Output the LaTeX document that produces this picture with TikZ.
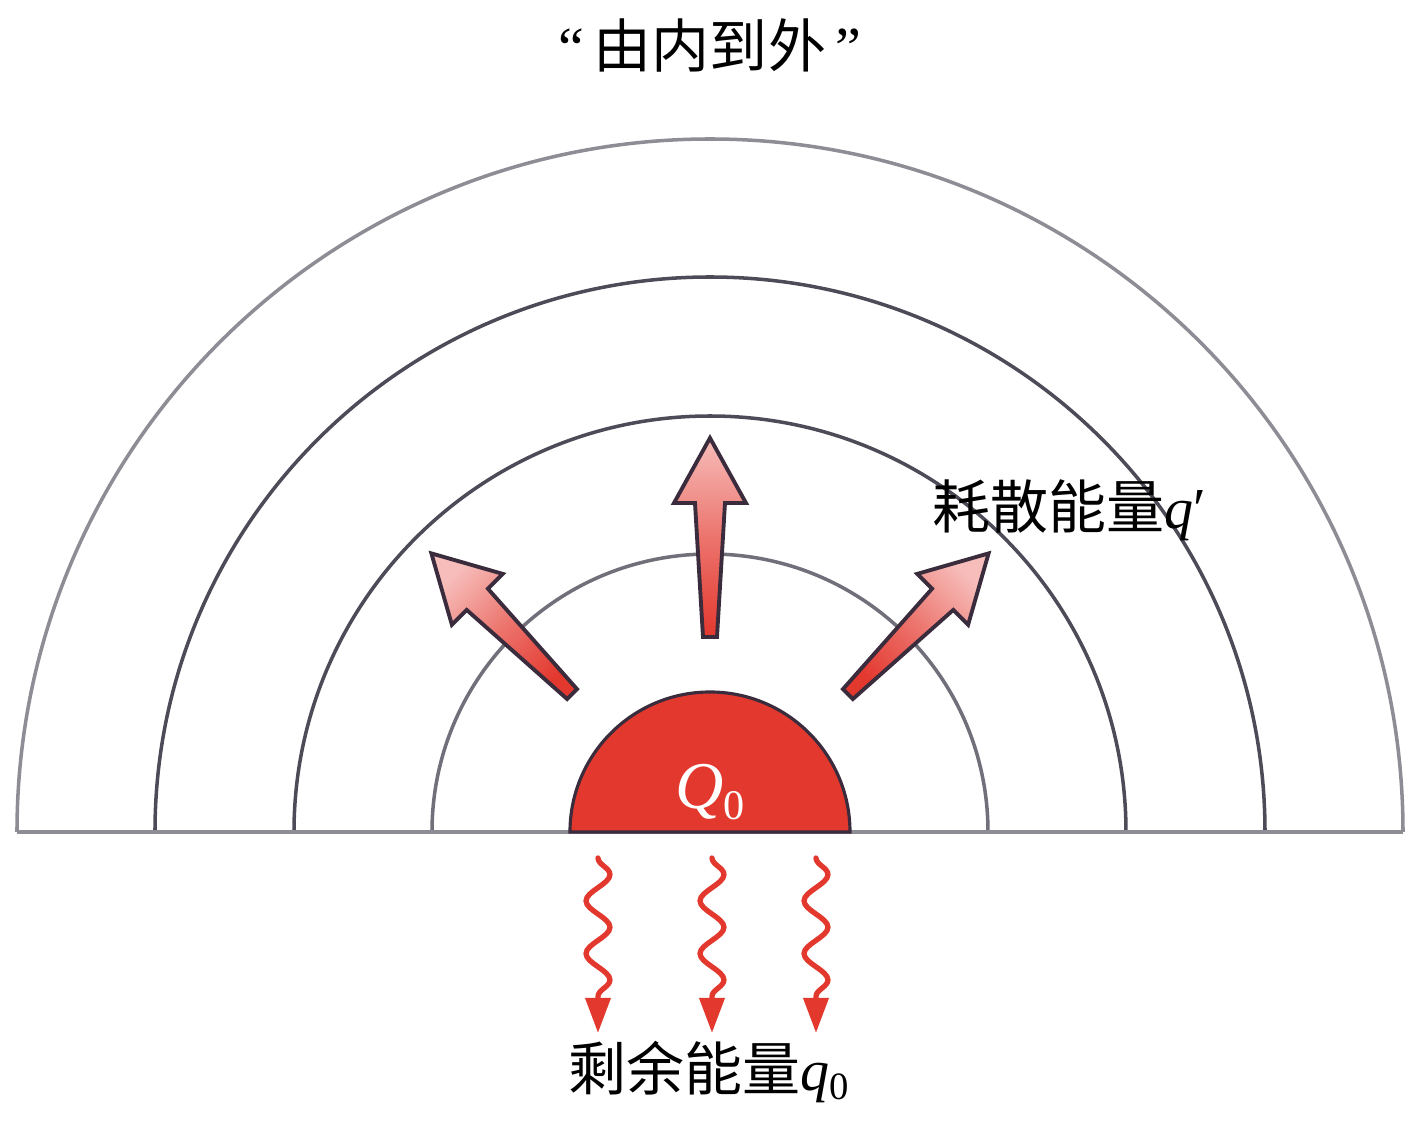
\documentclass[tikz,border=0pt]{standalone}
\usepackage{fontspec}
\setmainfont{Liberation Serif}
\newfontfamily\cjk{Noto Sans CJK SC}
\usetikzlibrary{arrows.meta,decorations.pathmorphing}
\definecolor{heat}{HTML}{E3382E}
\definecolor{blush}{HTML}{F7BDBA}
\definecolor{ringdark}{HTML}{4E4B58}
\definecolor{ringlight}{HTML}{8E8C94}
\definecolor{rim}{HTML}{3A2C3C}

\tikzset{
  ringarc/.style={draw=ringdark, line width=1pt},
  fatarrow/.style={draw=rim, line width=1.1pt, line join=miter,
                   top color=blush, bottom color=heat, middle color=heat!55!blush},
  wavy/.style={draw=heat, line width=1.5pt, line cap=round,
               decorate, decoration={snake, segment length=15pt,
               amplitude=3.4pt, post length=4pt},
               -{Triangle[length=10pt,width=7pt]}},
  label/.style={font=\fontsize{16.5}{20}\selectfont, inner sep=0pt}
}

\begin{document}
\begin{tikzpicture}[x=0.01cm,y=0.01cm]
  \useasboundingbox (-710,-289) rectangle (711,832);
  % rings
  \draw[ringarc, draw=ringlight] (693,0) arc (0:180:693);
  \draw[ringarc] (555,0) arc (0:180:555)
                 (416,0) arc (0:180:416);
  \draw[ringarc, draw=ringdark!80] (278,0) arc (0:180:278);
  \draw[draw=ringlight, line width=1pt] (-693,0) -- (693,0);
  % core
  \draw[fill=heat, draw=rim, line width=0.9pt] (140,0) arc (0:180:140) -- cycle;
  \node[label, text=white, font=\fontsize{19}{22}\selectfont] (core) at (0,40)
       {\textit{Q}\raisebox{-0.35ex}{\fontsize{12}{13}\selectfont 0}};
  % dissipation arrows
  \foreach \ang in {45,0,-45}{
    \begin{scope}[rotate=\ang]
      \draw[fatarrow, shading angle=\ang] (-7,195) -- (7,195) -- (15,329) -- (36,329)
            -- (0,394) -- (-36,329) -- (-15,329) -- cycle;
    \end{scope}
  }
  % remaining energy
  \foreach \x/\n in {-112/a,2/b,106/c}{
    \coordinate (top\n) at (\x,-26);
    \coordinate (bot\n) at (\x,-201);
    \draw[wavy] (top\n) -- (bot\n);
  }
  % texts
  \node[label] (title) at (0,787) {“\,{\cjk 由内到外}\,”};
  \node[label] (dissip) at (359,322) {{\cjk 耗散能量}\textit{q}′};
  \node[label] (remain) at (-1,-240)
       {{\cjk 剩余能量}\textit{q}\raisebox{-0.35ex}{\fontsize{11}{12}\selectfont 0}};
\end{tikzpicture}
\end{document}
